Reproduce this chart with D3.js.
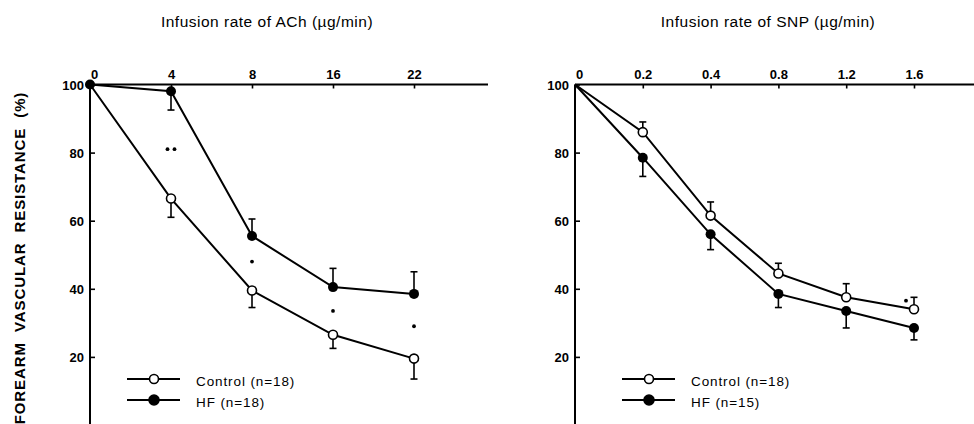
<!DOCTYPE html>
<html>
<head>
<meta charset="utf-8">
<script src="https://cdn.jsdelivr.net/npm/d3@7/dist/d3.min.js"></script>
<style>
  html, body { margin: 0; padding: 0; background: #fff; }
  svg { display: block; font-family: "Liberation Sans", Arial, sans-serif; }
</style>
</head>
<body>
<svg id="chart" width="974" height="424"></svg>
<script>
// ACh panel: dose steps and forearm vascular resistance (% of baseline)
const achDoses = ["0", "4", "8", "16", "22"];
const achControl = [100, 66.5, 39.5, 26.5, 19.5];
const achControlSE = [0, 5.5, 5, 4, 6];
const achControlDir = [0, -1, -1, -1, -1];
const achHF = [100, 98, 55.5, 40.5, 38.5];
const achHFSE = [0, 5.5, 5, 5.5, 6.5];
const achHFDir = [0, -1, 1, 1, 1];
const achSigDose = ["4", "8", "16", "22"];
const achSigValue = [81, 48, 33.5, 29];
const achSigCount = [2, 1, 1, 1];

// SNP panel
const snpDoses = ["0", "0.2", "0.4", "0.8", "1.2", "1.6"];
const snpControl = [100, 86, 61.5, 44.5, 37.5, 34];
const snpControlSE = [0, 3, 4, 3, 4, 3.5];
const snpControlDir = [0, 1, 1, 1, 1, 1];
const snpHF = [100, 78.5, 56, 38.5, 33.5, 28.5];
const snpHFSE = [0, 5.5, 4.5, 4, 5, 3.5];
const snpHFDir = [0, -1, -1, -1, -1, -1];
const snpSigDose = ["1.6"];
const snpSigValue = [36.5];
const snpSigCount = [1];

const yTicks = [20, 40, 60, 80, 100];

const svg = d3.select("#chart");

function panel(opts) {
  const g = svg.append("g");
  const x = d3.scalePoint().domain(opts.doses).range([opts.x0, opts.x1]);
  const y = d3.scaleLinear().domain([0, 100]).range([425, 84.5]);

  // title
  g.append("text")
    .attr("x", opts.titleX).attr("y", 27)
    .attr("text-anchor", "middle")
    .attr("font-size", 15.5)
    .attr("letter-spacing", 0.5)
    .text(opts.title);

  // top dose axis
  const top = g.append("g").attr("transform", `translate(0,${y(100)})`)
    .call(d3.axisTop(x).tickSizeInner(-4).tickSizeOuter(0).tickPadding(6));
  top.select(".domain").remove();
  top.selectAll(".tick line").attr("stroke-width", 1.6);
  top.selectAll(".tick text")
    .attr("font-size", 13).attr("font-weight", "bold")
    .attr("font-family", "Liberation Sans, Arial, sans-serif")
    .attr("dx", d => d === "0" ? 4 : 0);
  g.append("line")
    .attr("x1", opts.x0).attr("x2", opts.axisEnd)
    .attr("y1", y(100)).attr("y2", y(100))
    .attr("stroke", "#000").attr("stroke-width", 2);

  // left resistance axis
  const left = g.append("g").attr("transform", `translate(${opts.x0},0)`)
    .call(d3.axisLeft(y).tickValues(yTicks).tickSizeInner(-5).tickSizeOuter(0).tickPadding(6));
  left.select(".domain").remove();
  left.selectAll(".tick line").attr("stroke-width", 1.6);
  left.selectAll(".tick text")
    .attr("font-size", 13).attr("font-weight", "bold")
    .attr("font-family", "Liberation Sans, Arial, sans-serif")
    .attr("dy", "0.36em");
  g.append("line")
    .attr("x1", opts.x0).attr("x2", opts.x0)
    .attr("y1", y(100)).attr("y2", 424)
    .attr("stroke", "#000").attr("stroke-width", 2);

  const line = d3.line().x(d => x(d.dose)).y(d => y(d.v));

  function series(vals, se, dir, showZero) {
    const pts = opts.doses.map((d, i) => ({ dose: d, v: vals[i], se: se[i], dir: dir[i] }));
    g.append("path").datum(pts)
      .attr("d", line).attr("fill", "none")
      .attr("stroke", "#000").attr("stroke-width", 2);
    const eb = pts.filter(p => p.se > 0);
    g.selectAll(null).data(eb).enter().append("line")
      .attr("x1", p => x(p.dose)).attr("x2", p => x(p.dose))
      .attr("y1", p => y(p.v)).attr("y2", p => y(p.v + p.dir * p.se))
      .attr("stroke", "#000").attr("stroke-width", 1.6);
    g.selectAll(null).data(eb).enter().append("line")
      .attr("x1", p => x(p.dose) - 3.5).attr("x2", p => x(p.dose) + 3.5)
      .attr("y1", p => y(p.v + p.dir * p.se)).attr("y2", p => y(p.v + p.dir * p.se))
      .attr("stroke", "#000").attr("stroke-width", 1.6);
    return pts.filter((p, i) => i > 0 || showZero);
  }

  const cPts = series(opts.control, opts.controlSE, opts.controlDir, false);
  const hPts = series(opts.hf, opts.hfSE, opts.hfDir, opts.zeroMarker);

  g.selectAll(null).data(cPts).enter().append("circle")
    .attr("cx", p => x(p.dose)).attr("cy", p => y(p.v)).attr("r", 4.5)
    .attr("fill", "#fff").attr("stroke", "#000").attr("stroke-width", 1.6);
  g.selectAll(null).data(hPts).enter().append("circle")
    .attr("cx", p => x(p.dose)).attr("cy", p => y(p.v)).attr("r", 5)
    .attr("fill", "#000");

  // significance marks
  opts.sigDose.forEach((d, i) => {
    const n = opts.sigCount[i];
    for (let k = 0; k < n; k++) {
      const off = (k - (n - 1) / 2) * 7 + opts.sigShift[i];
      g.append("circle")
        .attr("cx", x(d) + off).attr("cy", y(opts.sigValue[i]))
        .attr("r", 1.9).attr("fill", "#000");
    }
  });

  // legend
  const lg = [
    { label: opts.controlLabel, filled: false, yy: 379 },
    { label: opts.hfLabel, filled: true, yy: 400 }
  ];
  lg.forEach(l => {
    g.append("line")
      .attr("x1", opts.legX).attr("x2", opts.legX + 53)
      .attr("y1", l.yy).attr("y2", l.yy)
      .attr("stroke", "#000").attr("stroke-width", 1.8);
    g.append("circle")
      .attr("cx", opts.legX + 27).attr("cy", l.yy).attr("r", l.filled ? 5 : 4.5)
      .attr("fill", l.filled ? "#000" : "#fff")
      .attr("stroke", "#000").attr("stroke-width", 1.6);
    g.append("text")
      .attr("x", opts.legX + 69).attr("y", l.yy + 7)
      .attr("font-size", 13.5)
      .attr("letter-spacing", 0.9)
      .text(l.label);
  });
}

panel({
  doses: achDoses, x0: 90, x1: 414, axisEnd: 488, titleX: 267,
  title: "Infusion rate of ACh (\u00b5g/min)",
  control: achControl, controlSE: achControlSE, controlDir: achControlDir,
  hf: achHF, hfSE: achHFSE, hfDir: achHFDir, zeroMarker: true,
  sigDose: achSigDose, sigValue: achSigValue, sigCount: achSigCount, sigShift: [0, 0, 0, 0],
  legX: 127, controlLabel: "Control (n=18)", hfLabel: "HF (n=18)"
});

panel({
  doses: snpDoses, x0: 575, x1: 914, axisEnd: 974, titleX: 768,
  title: "Infusion rate of SNP (\u00b5g/min)",
  control: snpControl, controlSE: snpControlSE, controlDir: snpControlDir,
  hf: snpHF, hfSE: snpHFSE, hfDir: snpHFDir, zeroMarker: false,
  sigDose: snpSigDose, sigValue: snpSigValue, sigCount: snpSigCount, sigShift: [-8],
  legX: 622, controlLabel: "Control (n=18)", hfLabel: "HF (n=15)"
});

// shared y-axis title
svg.append("text")
  .attr("transform", "translate(25,258) rotate(-90)")
  .attr("text-anchor", "middle")
  .attr("font-size", 15).attr("font-weight", "bold")
  .attr("xml:space", "preserve")
  .style("white-space", "pre")
  .attr("letter-spacing", 0.9)
  .text("FOREARM  VASCULAR  RESISTANCE  (%)");
</script>
</body>
</html>
